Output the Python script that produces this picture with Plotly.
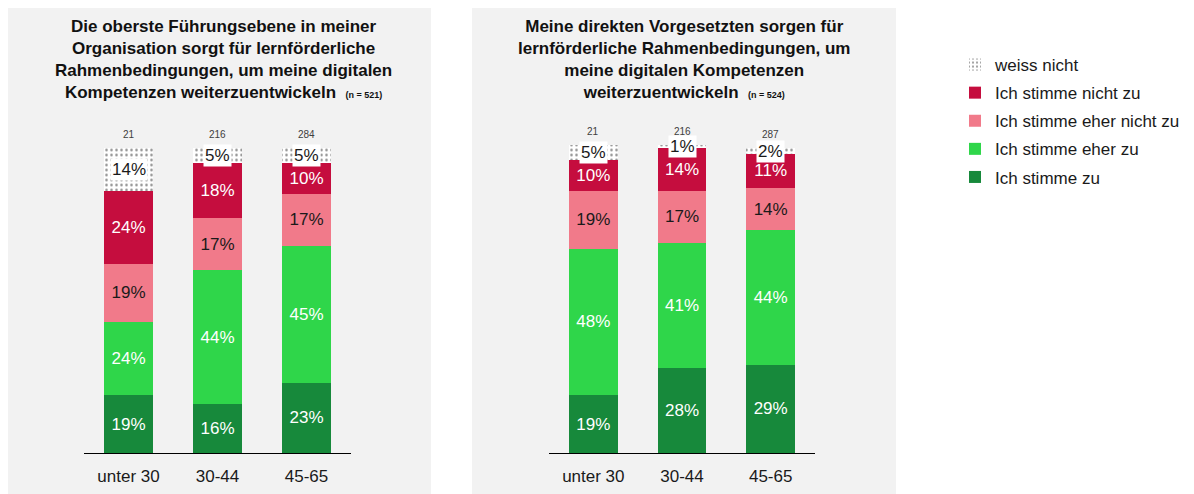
import plotly.graph_objects as go

# page has an 8px body margin; figure sized to fit the 1194x494 window
OFF = 8
W, H = 1194 - 2 * OFF, 494 - OFF

categories = ["unter 30", "30-44", "45-65"]
series_names = ["Ich stimme zu", "Ich stimme eher zu", "Ich stimme eher nicht zu",
                "Ich stimme nicht zu", "weiss nicht"]
colors = ["#17893b", "#2fd64a", "#f17a8a", "#c50d3e", "white"]
text_colors = ["white", "white", "#1a1a1a", "white", "#1a1a1a"]

# panel 1: Die oberste Führungsebene ...
p1_zu = [19, 16, 23]
p1_eher_zu = [24, 44, 45]
p1_eher_nicht = [19, 17, 17]
p1_nicht = [24, 18, 10]
p1_weiss = [14, 5, 5]
p1_n = ["21", "216", "284"]

# panel 2: Meine direkten Vorgesetzten ...
p2_zu = [19, 28, 29]
p2_eher_zu = [48, 41, 44]
p2_eher_nicht = [19, 17, 14]
p2_nicht = [10, 14, 11]
p2_weiss = [5, 1, 2]
p2_n = ["21", "216", "287"]

title1 = ("<b>Die oberste Führungsebene in meiner<br>Organisation sorgt für lernförderliche<br>"
          "Rahmenbedingungen, um meine digitalen<br>Kompetenzen weiterzuentwickeln  "
          "<span style='font-size:9px'>(n = 521)</span></b>")
title2 = ("<b>Meine direkten Vorgesetzten sorgen für<br>lernförderliche Rahmenbedingungen, um<br>"
          "meine digitalen Kompetenzen<br>weiterzuentwickeln  "
          "<span style='font-size:9px'>(n = 524)</span></b>")

FONT = "Liberation Sans, Arial, sans-serif"

def px_x(p):
    return (p - OFF) / W

def px_y(p):
    return 1 - (p - OFF) / H

fig = go.Figure()

panels = [
    ([p1_zu, p1_eher_zu, p1_eher_nicht, p1_nicht, p1_weiss], p1_n, "x", "y", True),
    ([p2_zu, p2_eher_zu, p2_eher_nicht, p2_nicht, p2_weiss], p2_n, "x2", "y2", False),
]

annotations = []
for vals, nlab, xa, ya, showleg in panels:
    for i, (name, col, tcol, v) in enumerate(zip(series_names, colors, text_colors, vals)):
        is_weiss = name == "weiss nicht"
        fig.add_trace(go.Bar(
            x=categories, y=v, name=name, xaxis=xa, yaxis=ya, legendgroup=name,
            legendrank=len(series_names) - i,
            marker=dict(color=col, line=dict(width=0),
                        pattern=dict(shape=".", fgcolor="#111111", bgcolor="white",
                                     size=5, solidity=0.2) if is_weiss else None),
            text=None if is_weiss else [f"{t}%" for t in v],
            textposition="inside", insidetextanchor="middle",
            textfont=dict(color=tcol, size=17, family=FONT),
            width=0.55, showlegend=showleg,
            hoverinfo="skip",
        ))
    totals = [sum(col[j] for col in vals) for j in range(3)]
    for j, c in enumerate(categories):
        base = totals[j] - vals[4][j]
        annotations.append(dict(
            x=c, y=base + vals[4][j] / 2, xref=xa, yref=ya, text=f"{vals[4][j]}%",
            showarrow=False, bgcolor="white", borderpad=1,
            font=dict(size=17, color="#1a1a1a", family=FONT)))
        annotations.append(dict(
            x=c, y=totals[j], xref=xa, yref=ya, text=nlab[j], yanchor="bottom",
            yshift=6, showarrow=False, font=dict(size=10, color="#404040", family=FONT)))

annotations.append(dict(x=px_x(223), y=px_y(15), xref="paper", yref="paper", text=title1,
                        showarrow=False, xanchor="center", yanchor="top", align="center",
                        font=dict(size=17, color="#111111", family=FONT)))
annotations.append(dict(x=px_x(684), y=px_y(15), xref="paper", yref="paper", text=title2,
                        showarrow=False, xanchor="center", yanchor="top", align="center",
                        font=dict(size=17, color="#111111", family=FONT)))

shapes = [
    dict(type="rect", xref="paper", yref="paper", x0=px_x(7), x1=px_x(431),
         y0=0, y1=px_y(8), fillcolor="#f2f2f2", line=dict(width=0), layer="below"),
    dict(type="rect", xref="paper", yref="paper", x0=px_x(472), x1=px_x(896),
         y0=0, y1=px_y(8), fillcolor="#f2f2f2", line=dict(width=0), layer="below"),
]

ydom = [px_y(453), px_y(453 - 305 * 1.1)]
xcommon = dict(showgrid=False, zeroline=False, showline=True, linecolor="black", linewidth=1,
               ticks="", tickfont=dict(size=17, color="#1a1a1a", family=FONT),
               range=[-0.5, 2.5], fixedrange=True, ticklabelstandoff=8)
ycommon = dict(range=[0, 110], showgrid=False, zeroline=False, showticklabels=False,
               showline=False, domain=ydom, fixedrange=True)

fig.update_layout(
    width=W, height=H, margin=dict(l=0, r=0, t=0, b=0),
    paper_bgcolor="white", plot_bgcolor="rgba(0,0,0,0)",
    barmode="stack", bargap=0.45,
    xaxis=dict(domain=[px_x(84), px_x(351)], anchor="y", **xcommon),
    xaxis2=dict(domain=[px_x(549), px_x(815)], anchor="y2", **xcommon),
    yaxis=dict(anchor="x", **ycommon),
    yaxis2=dict(anchor="x2", **ycommon),
    legend=dict(x=px_x(955), y=px_y(47), xanchor="left", yanchor="top",
                font=dict(size=17, color="#1a1a1a", family=FONT),
                bgcolor="rgba(0,0,0,0)", tracegroupgap=3, itemwidth=30,
                traceorder="grouped"),
    uniformtext=dict(minsize=17, mode="show"),
    annotations=annotations, shapes=shapes,
    font=dict(family=FONT),
)

fig.write_html("out.html")
